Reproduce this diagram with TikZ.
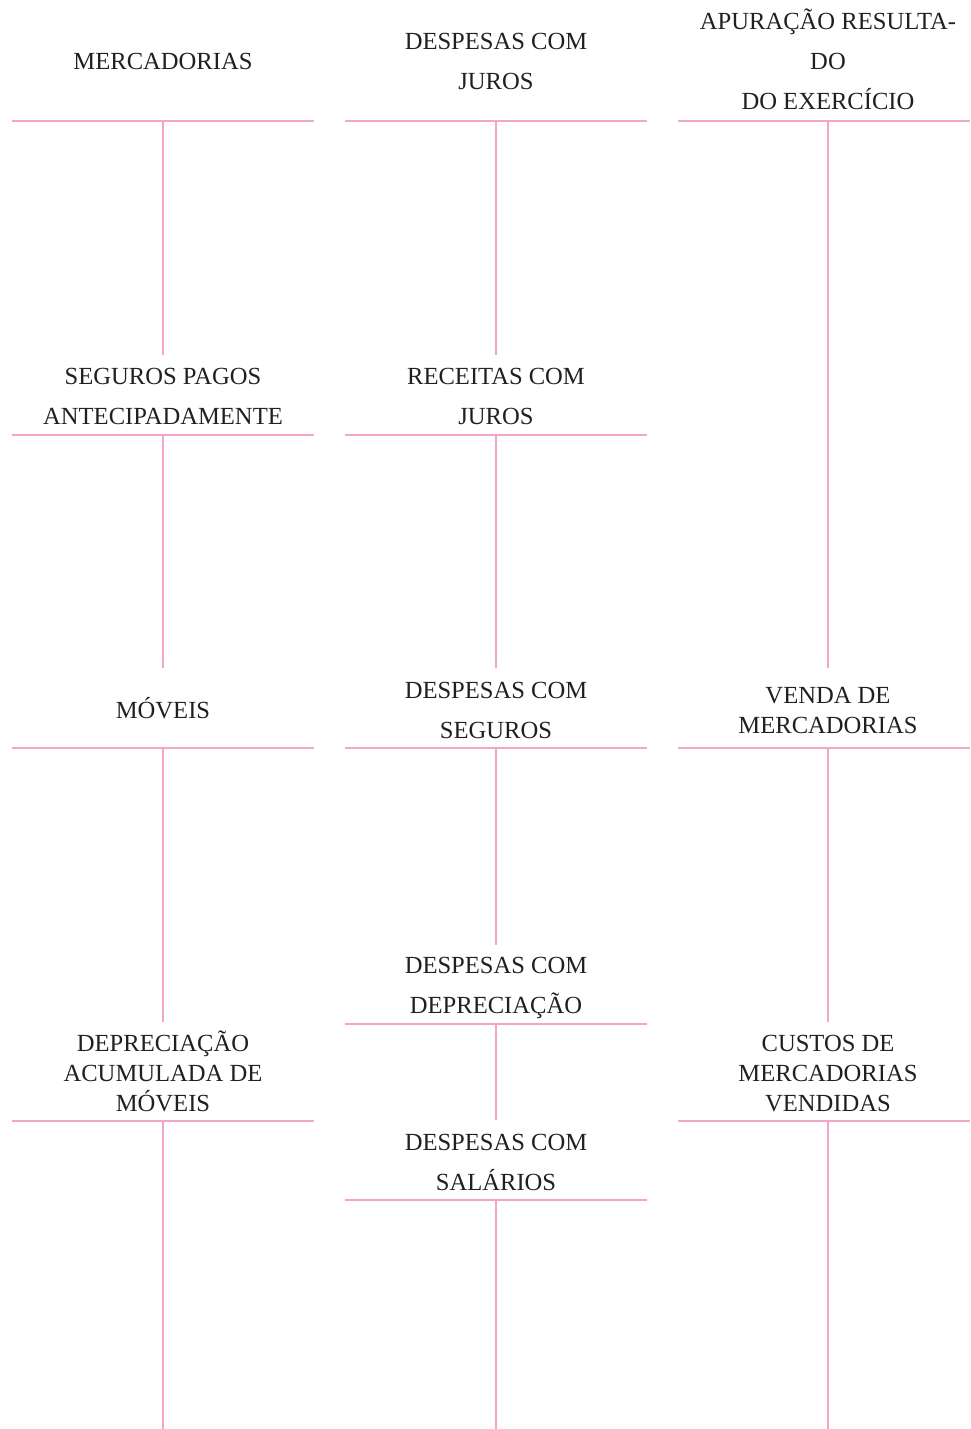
\documentclass[tikz,border=0pt]{standalone}
\usepackage{fontspec}
\setmainfont{Liberation Serif}
\usepackage{xcolor}
\usetikzlibrary{positioning}

\definecolor{tline}{HTML}{F4A6CA}
\definecolor{ttext}{HTML}{231F20}

\begin{document}
\begin{tikzpicture}
[
x=0.5pt, y=-0.5pt,
title-a/.style={anchor=base, align=center, inner sep=0pt, text=ttext, font=\fontsize{12.3}{20}\selectfont},
title-b/.style={title-a, font=\fontsize{12.3}{15}\selectfont},
t-line/.style={draw=tline, line width=0.6pt}
]
\useasboundingbox (0,0) rectangle (970,1429);

% left column (base = last line)
\node (merc)    [title-a] at (163,70)   {MERCADORIAS};
\node (seg-ant) [title-a] at (163,424)  {SEGUROS PAGOS\\ANTECIPADAMENTE};
\node (moveis)  [title-a] at (163,718)  {MÓVEIS};
\node (dep-ac)  [title-b] at (163,1111) {DEPRECIAÇÃO\\ACUMULADA DE\\MÓVEIS};
\draw [t-line] (12,121)  -- (314,121)  (163,121)  -- (163,355);
\draw [t-line] (12,435)  -- (314,435)  (163,435)  -- (163,668);
\draw [t-line] (12,748)  -- (314,748)  (163,748)  -- (163,1022);
\draw [t-line] (12,1121) -- (314,1121) (163,1121) -- (163,1429);

% middle column
\node (desp-jur) [title-a] at (496,90)   {DESPESAS COM\\JUROS};
\node (rec-jur)  [title-a] at (496,424)  {RECEITAS COM\\JUROS};
\node (desp-seg) [title-a] at (496,738)  {DESPESAS COM\\SEGUROS};
\node (desp-dep) [title-a] at (496,1013) {DESPESAS COM\\DEPRECIAÇÃO};
\node (desp-sal) [title-a] at (496,1190) {DESPESAS COM\\SALÁRIOS};
\draw [t-line] (345,121)  -- (647,121)  (496,121)  -- (496,355);
\draw [t-line] (345,435)  -- (647,435)  (496,435)  -- (496,668);
\draw [t-line] (345,748)  -- (647,748)  (496,748)  -- (496,945);
\draw [t-line] (345,1024) -- (647,1024) (496,1024) -- (496,1120);
\draw [t-line] (345,1200) -- (647,1200) (496,1200) -- (496,1429);

% right column
\node (apur)     [title-a] at (828,110)  {APURAÇÃO RESULTA-\\DO\\DO EXERCÍCIO};
\node (venda)    [title-b] at (828,733)  {VENDA DE\\MERCADORIAS};
\node (cmv)      [title-b] at (828,1111) {CUSTOS DE\\MERCADORIAS\\VENDIDAS};
\draw [t-line] (678,121)  -- (970,121)  (828,121)  -- (828,668);
\draw [t-line] (678,748)  -- (970,748)  (828,748)  -- (828,1022);
\draw [t-line] (678,1121) -- (970,1121) (828,1121) -- (828,1429);
\end{tikzpicture}
\end{document}
